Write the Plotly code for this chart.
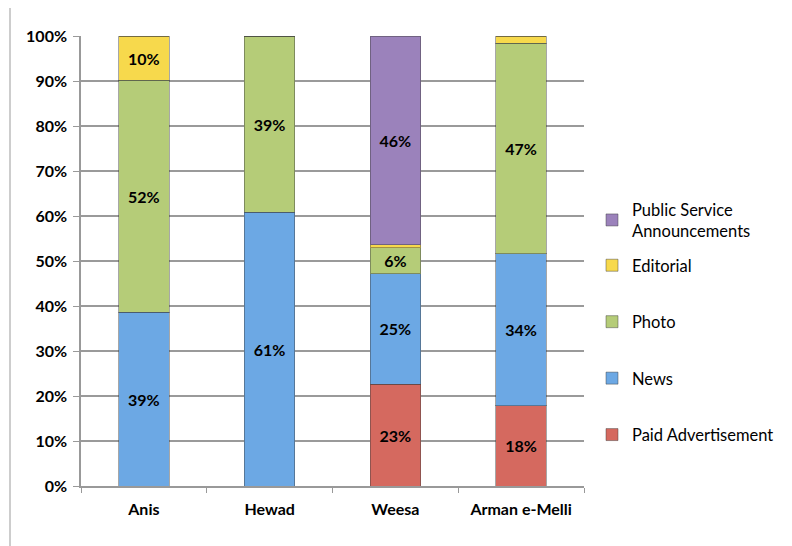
import plotly.graph_objects as go

categories = ["Anis", "Hewad", "Weesa", "Arman e-Melli"]
paid_ad = [0, 0, 22.6, 17.8]
news = [38.6, 60.8, 24.6, 33.8]
photo = [51.6, 39.2, 5.8, 46.8]
editorial = [9.8, 0, 0.6, 1.6]
psa = [0, 0, 46.4, 0]

series = [
    ("Paid Advertisement", paid_ad, "#D5695F", "legend"),
    ("News", news, "#6CA8E4", "legend"),
    ("Photo", photo, "#B5CC78", "legend"),
    ("Editorial", editorial, "#F7D94C", "legend"),
    ("Public Service<br>Announcements", psa, "#9B82BB", "legend2"),
]

# page body has an 8px offset; size figure to fit the 792x546 window
OFF = 8
W, H = 792 - OFF, 546 - OFF
ML, MT = 81 - OFF, 36 - OFF
MR = W - ML - 503
MB = H - MT - 450
PW, PH = W - ML - MR, H - MT - MB

def px_x(x):  # window px -> paper x
    return (x - OFF - ML) / PW

def px_y(y):  # window px -> paper y
    return (H - MB - (y - OFF)) / PH

fig = go.Figure()
n = len(series)
for i, (name, vals, col, leg) in enumerate(series):
    labels = [f"{round(v)}%" if v >= 3 else "" for v in vals]
    fig.add_trace(go.Bar(
        x=categories, y=vals, name=name, marker_color=col,
        marker_line=dict(color="rgba(60,60,60,0.45)", width=1),
        text=labels, textposition="inside", insidetextanchor="middle",
        textangle=0,
        textfont=dict(family="Lato", size=16, color="black", weight="bold"),
        legendgroup=f"g{i}", legendrank=n - i, legend=leg,
    ))

leg_font = dict(family="Lato", size=16.5, color="black")
fig.update_layout(
    width=W, height=H,
    margin=dict(l=ML, r=MR, t=MT, b=MB, autoexpand=False),
    barmode="stack", bargap=0.6,
    plot_bgcolor="white", paper_bgcolor="white",
    font=dict(family="Lato", size=14, color="black"),
    showlegend=True,
    legend=dict(
        x=px_x(592), xanchor="left", y=px_y(350), yanchor="middle",
        traceorder="grouped", tracegroupgap=32,
        font=leg_font, itemwidth=30,
    ),
    legend2=dict(
        x=px_x(592), xanchor="left", y=px_y(220), yanchor="middle",
        font=leg_font, itemwidth=30,
    ),
    shapes=[dict(type="line", xref="paper", yref="paper",
                 x0=px_x(10), x1=px_x(10),
                 y0=-1, y1=2, line=dict(color="#BDBDBD", width=1.5))],
)
fig.update_xaxes(
    type="category", showgrid=False, showline=True, linecolor="#999999", linewidth=1.5,
    ticks="outside", tickson="boundaries", ticklen=5, tickcolor="#999999",
    tickfont=dict(family="Lato", size=16, color="black", weight="bold"),
    ticklabelstandoff=8, automargin=False,
)
fig.update_yaxes(
    range=[0, 100], dtick=10, ticksuffix="%",
    showgrid=True, gridcolor="#9a9a9a", gridwidth=1.5,
    showline=True, linecolor="#999999", linewidth=1.5,
    ticks="outside", ticklen=6, tickcolor="#999999",
    tickfont=dict(family="Lato", size=16, color="black", weight="bold"),
    ticklabelstandoff=3, zeroline=False, automargin=False,
)

fig.write_html("out.html")
